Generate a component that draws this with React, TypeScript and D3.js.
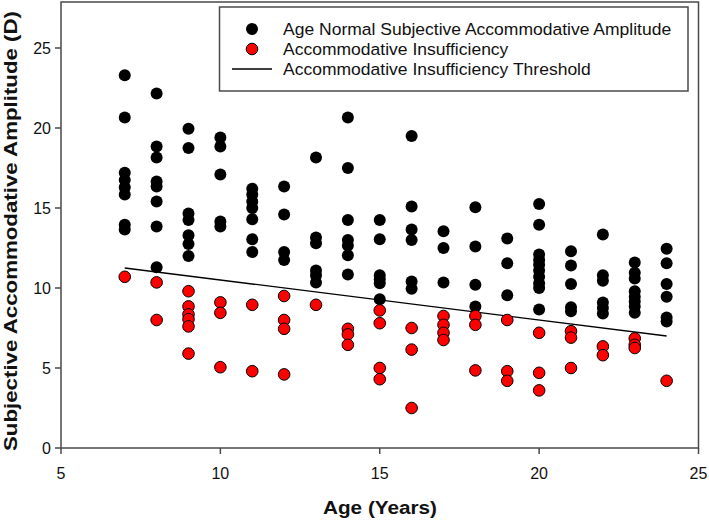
import React from "react";
import * as d3 from "d3";

const ages = [7, 8, 9, 10, 11, 12, 13, 14, 15, 16, 17, 18, 19, 20, 21, 22, 23, 24];

const normalAmplitudes: number[][] = [
  [23.3, 20.65, 17.2, 16.75, 16.3, 15.85, 13.95, 13.65],
  [22.15, 18.85, 18.15, 16.65, 16.35, 15.4, 13.85, 11.3],
  [19.95, 18.75, 14.65, 14.25, 13.3, 12.75, 12.0],
  [19.4, 18.85, 17.1, 14.15, 13.85],
  [16.2, 15.85, 15.4, 15.0, 14.3, 13.05, 12.25],
  [16.35, 14.6, 12.25, 11.75],
  [18.15, 13.15, 12.8, 11.1, 10.8, 10.35],
  [20.65, 17.5, 14.25, 13.0, 12.65, 12.05, 10.85],
  [14.25, 13.05, 10.8, 10.55, 10.3, 9.3],
  [19.5, 15.1, 13.65, 13.0, 10.4, 9.95],
  [13.55, 12.5, 10.35],
  [15.05, 12.6, 10.2, 8.85],
  [13.1, 11.55, 9.55],
  [15.25, 13.95, 12.1, 11.75, 11.45, 11.1, 10.7, 10.3, 10.0, 8.65],
  [12.3, 11.4, 10.25, 8.8, 8.55],
  [13.35, 10.8, 10.45, 9.1, 8.75, 8.4],
  [11.6, 10.95, 10.6, 9.8, 9.45, 9.15, 8.85, 8.45],
  [12.45, 11.55, 10.25, 9.45, 8.15, 7.9],
];

const insufficientAmplitudes: number[][] = [
  [10.7],
  [10.35, 8.0],
  [9.8, 8.85, 8.35, 8.05, 7.6, 5.9],
  [9.1, 8.45, 5.05],
  [8.95, 4.8],
  [9.5, 8.0, 7.45, 4.6],
  [8.95],
  [7.45, 7.1, 6.45],
  [8.6, 7.8, 5.0, 4.3],
  [7.5, 6.15, 2.5],
  [8.25, 7.7, 7.2, 6.75],
  [8.25, 7.7, 4.85],
  [8.0, 4.8, 4.2],
  [7.2, 4.7, 3.6],
  [7.3, 6.9, 5.0],
  [6.35, 5.8],
  [6.85, 6.45, 6.25],
  [4.2],
];

const thresholdAges = [7, 24];
const thresholdValues = [11.25, 7.0];

const xTicks = [5, 10, 15, 20, 25];
const yTicks = [0, 5, 10, 15, 20, 25];

const legendLabels = [
  "Age Normal Subjective Accommodative Amplitude",
  "Accommodative Insufficiency",
  "Accommodative Insufficiency Threshold",
];

const W = 709;
const H = 524;
const plot = { left: 61, right: 698.5, top: 2, bottom: 448 };

export default function App() {
  const x = d3.scaleLinear().domain([5, 25]).range([plot.left, plot.right]);
  const y = d3.scaleLinear().domain([0, 27.875]).range([plot.bottom, plot.top]);

  const normalPts: [number, number][] = [];
  ages.forEach((a, i) => normalAmplitudes[i].forEach((v) => normalPts.push([a, v])));
  const redPts: [number, number][] = [];
  ages.forEach((a, i) => insufficientAmplitudes[i].forEach((v) => redPts.push([a, v])));

  const line = d3
    .line<number>()
    .x((_, i) => x(thresholdAges[i]))
    .y((d) => y(d));

  const axisColor = "#4a4a4a";
  const font = "Arial, 'Liberation Sans', sans-serif";

  return (
    <svg
      width={W}
      height={H}
      style={{ position: "absolute", left: 0, top: 0, background: "#fff" }}
      fontFamily={font}
    >
      <rect x={0} y={0} width={W} height={H} fill="#fff" />
      {/* frame */}
      <rect
        x={plot.left}
        y={plot.top}
        width={plot.right - plot.left}
        height={plot.bottom - plot.top}
        fill="none"
        stroke={axisColor}
        strokeWidth={1.5}
      />
      {/* x ticks */}
      {xTicks.map((t) => (
        <g key={"x" + t}>
          <line x1={x(t)} x2={x(t)} y1={plot.bottom} y2={plot.bottom + 6} stroke={axisColor} strokeWidth={1.5} />
          <text x={x(t)} y={479} textAnchor="middle" fontSize={16} fill="#111">
            {t}
          </text>
        </g>
      ))}
      {/* y ticks */}
      {yTicks.map((t) => (
        <g key={"y" + t}>
          <line x1={plot.left - 6} x2={plot.left} y1={y(t)} y2={y(t)} stroke={axisColor} strokeWidth={1.5} />
          <text x={51} y={y(t) + 5.7} textAnchor="end" fontSize={16} fill="#111">
            {t}
          </text>
        </g>
      ))}
      {/* axis titles */}
      <text
        x={380}
        y={514}
        textAnchor="middle"
        fontSize={18}
        fontWeight="bold"
        textLength={114}
        lengthAdjust="spacingAndGlyphs"
        fill="#111"
      >
        Age (Years)
      </text>
      <text
        transform={`translate(17,231) rotate(-90)`}
        textAnchor="middle"
        fontSize={18.5}
        fontWeight="bold"
        textLength={440}
        lengthAdjust="spacingAndGlyphs"
        fill="#111"
      >
        Subjective Accommodative Amplitude (D)
      </text>
      {/* black points */}
      {normalPts.map((p, i) => (
        <circle key={"n" + i} cx={x(p[0])} cy={y(p[1])} r={6} fill="#000" />
      ))}
      {/* threshold line */}
      <path d={line(thresholdValues) || ""} fill="none" stroke="#000" strokeWidth={1.3} />
      {/* red points */}
      {redPts.map((p, i) => (
        <circle key={"r" + i} cx={x(p[0])} cy={y(p[1])} r={5.8} fill="#ff0000" stroke="#000" strokeWidth={1} />
      ))}
      {/* legend */}
      <rect x={219.5} y={7} width={468.5} height={84} fill="#fff" stroke={axisColor} strokeWidth={1.5} />
      <circle cx={252} cy={29} r={6} fill="#000" />
      <circle cx={252} cy={49} r={5.8} fill="#ff0000" stroke="#000" strokeWidth={1} />
      <line x1={232} x2={272} y1={69} y2={69} stroke="#000" strokeWidth={1.3} />
      {legendLabels.map((l, i) => (
        <text
          key={l}
          transform={`translate(283,${29 + i * 20 + 6}) scale(1.03,1)`}
          fontSize={17}
          fill="#111"
        >
          {l}
        </text>
      ))}
    </svg>
  );
}
